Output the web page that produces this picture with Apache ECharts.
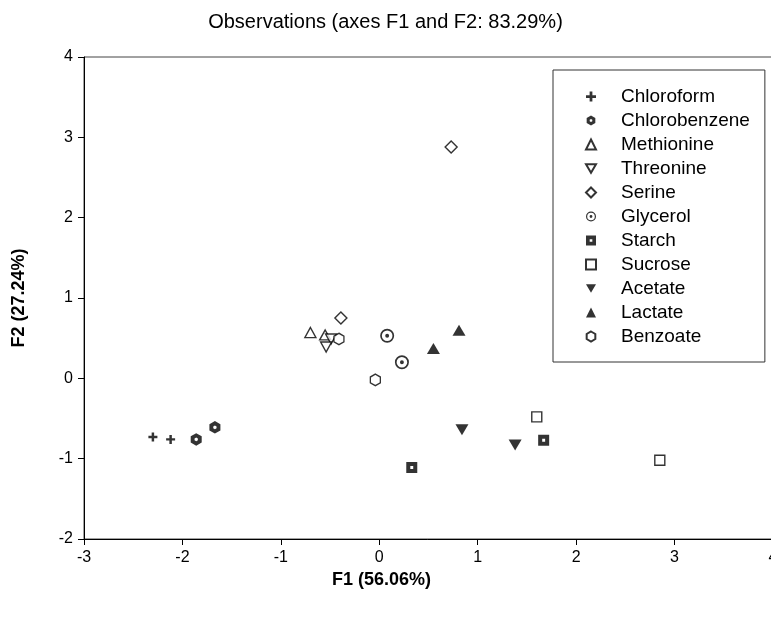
<!DOCTYPE html>
<html>
<head>
<meta charset="utf-8">
<script src="https://cdn.jsdelivr.net/npm/echarts@6/dist/echarts.min.js"></script>
<style>
  html, body { margin: 0; padding: 0; background: #fff; }
  #chart { width: 771px; height: 622px; }
</style>
</head>
<body>
<div id="chart"></div>
<script>
// PCA scores on the first two factors, one array of [F1, F2] pairs per substrate
const chloroform    = [[-2.30, -0.73], [-2.12, -0.76]];
const chlorobenzene = [[-1.86, -0.76], [-1.67, -0.61]];
const methionine    = [[-0.70, 0.57], [-0.55, 0.54]];
const threonine     = [[-0.49, 0.49], [-0.54, 0.39]];
const serine        = [[-0.39, 0.75], [0.73, 2.88]];
const glycerol      = [[0.08, 0.53], [0.23, 0.20]];
const starch        = [[0.33, -1.11], [1.67, -0.77]];
const sucrose       = [[1.60, -0.48], [2.85, -1.02]];
const acetate       = [[0.84, -0.64], [1.38, -0.83]];
const lactate       = [[0.55, 0.37], [0.81, 0.60]];
const benzoate      = [[-0.41, 0.49], [-0.04, -0.02]];

const seriesNames = ['Chloroform', 'Chlorobenzene', 'Methionine', 'Threonine', 'Serine',
  'Glycerol', 'Starch', 'Sucrose', 'Acetate', 'Lactate', 'Benzoate'];
const seriesData = [chloroform, chlorobenzene, methionine, threonine, serine,
  glycerol, starch, sucrose, acetate, lactate, benzoate];

const xTicks = { min: -3, max: 4, step: 1 };
const yTicks = { min: -2, max: 4, step: 1 };

// Marker shapes
const PLUS = 'path://M-1.1,-4H1.1V-1.1H4V1.1H1.1V4H-1.1V1.1H-4V-1.1H-1.1Z';
const HEX = 'path://M0,-10L8.66,-5L8.66,5L0,10L-8.66,5L-8.66,-5Z';
const HEX_HOLE = 'path://M0,-10L8.66,-5L8.66,5L0,10L-8.66,5L-8.66,-5Z' +
  'M0,-3L-2.6,-1.5L-2.6,1.5L0,3L2.6,1.5L2.6,-1.5Z';
const DOWN_TRI = 'path://M-5,-4.33L5,-4.33L0,4.33Z';
const RING_DOT = 'path://M0,-10A10,10,0,1,1,0,10A10,10,0,1,1,0,-10Z' +
  'M0,-7.6A7.6,7.6,0,1,0,0,7.6A7.6,7.6,0,1,0,0,-7.6Z' +
  'M0,-2.8A2.8,2.8,0,1,1,0,2.8A2.8,2.8,0,1,1,0,-2.8Z';
const SQ_HOLE = 'path://M-6,-6H6V6H-6Z M-1.6,-1.6V1.6H1.6V-1.6Z';

const hollow = { color: '#fff', borderColor: '#000', borderWidth: 1.4 };
const solid = { color: '#000', borderWidth: 0 };

const markerStyles = [
  { symbol: PLUS, symbolSize: 9, itemStyle: solid },
  { symbol: HEX_HOLE, symbolSize: [11, 12.5], itemStyle: solid },
  { symbol: 'triangle', symbolSize: [11, 10], itemStyle: hollow },
  { symbol: DOWN_TRI, symbolSize: [11, 10], itemStyle: hollow },
  { symbol: 'diamond', symbolSize: [12, 12], itemStyle: hollow },
  { symbol: RING_DOT, symbolSize: 14, itemStyle: solid },
  { symbol: SQ_HOLE, symbolSize: 11, itemStyle: solid },
  { symbol: 'rect', symbolSize: 10, itemStyle: hollow },
  { symbol: DOWN_TRI, symbolSize: [13, 11], itemStyle: solid },
  { symbol: 'triangle', symbolSize: [13, 11], itemStyle: solid },
  { symbol: HEX, symbolSize: [10, 11.5], itemStyle: hollow }
];

const font = "'Liberation Sans', Arial, sans-serif";

const chart = echarts.init(document.getElementById('chart'), null, { renderer: 'canvas' });

chart.setOption({
  backgroundColor: '#fff',
  animation: false,
  textStyle: { fontFamily: font, color: '#000' },
  title: {
    text: 'Observations (axes F1 and F2: 83.29%)',
    left: 'center',
    top: 7,
    textStyle: { fontFamily: font, fontSize: 20, fontWeight: 'normal', color: '#000' }
  },
  grid: {
    left: 84, top: 57, width: 689, height: 482,
    outerBoundsMode: 'none',
    containLabel: false,
    show: true, borderColor: '#444', borderWidth: 1
  },
  legend: {
    orient: 'vertical',
    left: 553,
    top: 70,
    padding: [17, 15, 16, 32],
    borderColor: '#333',
    borderWidth: 1,
    itemWidth: 10,
    itemHeight: 10,
    itemGap: 5,
    data: seriesNames,
    textStyle: { fontFamily: font, fontSize: 19, color: '#000', padding: [0, 0, 0, 20], lineHeight: 19 }
  },
  xAxis: {
    type: 'value',
    min: xTicks.min, max: xTicks.max, interval: xTicks.step,
    name: 'F1 (56.06%)',
    nameLocation: 'middle',
    nameGap: 30,
    nameTextStyle: { fontFamily: font, fontSize: 18, fontWeight: 'bold', color: '#000', padding: [0, 94, 0, 0] },
    axisLine: { onZero: false, lineStyle: { color: '#000', width: 1 } },
    axisTick: { show: true, length: 6, lineStyle: { color: '#000' } },
    axisLabel: { margin: 11, fontSize: 16, color: '#000', fontFamily: font },
    splitLine: { show: false }
  },
  yAxis: {
    type: 'value',
    min: yTicks.min, max: yTicks.max, interval: yTicks.step,
    name: 'F2 (27.24%)',
    nameLocation: 'middle',
    nameGap: 56,
    nameTextStyle: { fontFamily: font, fontSize: 18, fontWeight: 'bold', color: '#000' },
    axisLine: { onZero: false, lineStyle: { color: '#000', width: 1 } },
    axisTick: { show: true, length: 6, lineStyle: { color: '#000' } },
    axisLabel: { margin: 11, fontSize: 16, color: '#000', fontFamily: font },
    splitLine: { show: false }
  },
  series: seriesNames.map((name, i) => ({
    name,
    type: 'scatter',
    data: seriesData[i],
    symbol: markerStyles[i].symbol,
    symbolSize: markerStyles[i].symbolSize,
    itemStyle: markerStyles[i].itemStyle,
    emphasis: { disabled: true }
  }))
});
</script>
</body>
</html>
